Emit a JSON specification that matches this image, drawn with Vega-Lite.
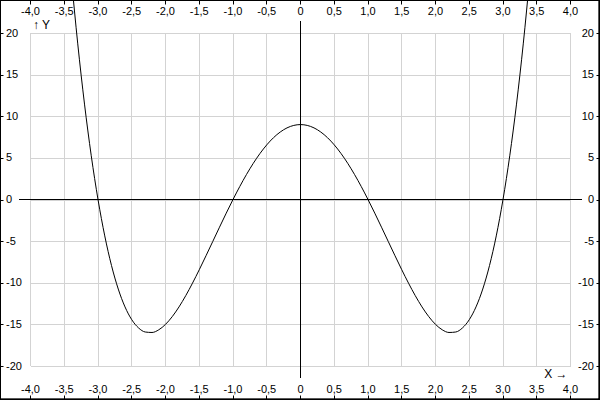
{
  "$schema": "https://vega.github.io/schema/vega-lite/v6.json",
  "width": 540,
  "height": 333,
  "autosize": {"type": "none"},
  "padding": {"left": 30.5, "top": 33, "right": 29.5, "bottom": 34},
  "background": "white",
  "config": {
    "view": {"stroke": null},
    "axis": {
      "labelFont": "Liberation Sans",
      "labelFontSize": 11,
      "labelColor": "#000",
      "titleFont": "Liberation Sans",
      "titleFontSize": 12,
      "titleColor": "#000",
      "titleFontWeight": "normal",
      "domain": false,
      "tickColor": "#000",
      "gridColor": "#d3d3d3",
      "gridOpacity": 1,
      "labelFlush": false,
      "labelOverlap": false,
      "labelBound": false
    }
  },
  "data": {
    "values": [
      {"x": -3.4, "y": 27.034}, {"x": -3.3, "y": 18.692}, {"x": -3.2, "y": 11.458}, {"x": -3.1, "y": 5.252},
      {"x": -3.0, "y": 0}, {"x": -2.9, "y": -4.372}, {"x": -2.8, "y": -7.934}, {"x": -2.7, "y": -10.756},
      {"x": -2.6, "y": -12.902}, {"x": -2.5, "y": -14.438}, {"x": -2.4, "y": -15.422}, {"x": -2.3, "y": -15.916},
      {"x": -2.2, "y": -15.974}, {"x": -2.1, "y": -15.652}, {"x": -2.0, "y": -15}, {"x": -1.9, "y": -14.068},
      {"x": -1.8, "y": -12.902}, {"x": -1.7, "y": -11.548}, {"x": -1.6, "y": -10.046}, {"x": -1.5, "y": -8.438},
      {"x": -1.4, "y": -6.758}, {"x": -1.3, "y": -5.044}, {"x": -1.2, "y": -3.326}, {"x": -1.1, "y": -1.636},
      {"x": -1.0, "y": 0}, {"x": -0.9, "y": 1.556}, {"x": -0.8, "y": 3.01}, {"x": -0.7, "y": 4.34},
      {"x": -0.6, "y": 5.53}, {"x": -0.5, "y": 6.563}, {"x": -0.4, "y": 7.426}, {"x": -0.3, "y": 8.108},
      {"x": -0.2, "y": 8.602}, {"x": -0.1, "y": 8.9}, {"x": 0, "y": 9},
      {"x": 0.1, "y": 8.9}, {"x": 0.2, "y": 8.602}, {"x": 0.3, "y": 8.108}, {"x": 0.4, "y": 7.426},
      {"x": 0.5, "y": 6.563}, {"x": 0.6, "y": 5.53}, {"x": 0.7, "y": 4.34}, {"x": 0.8, "y": 3.01},
      {"x": 0.9, "y": 1.556}, {"x": 1.0, "y": 0}, {"x": 1.1, "y": -1.636}, {"x": 1.2, "y": -3.326},
      {"x": 1.3, "y": -5.044}, {"x": 1.4, "y": -6.758}, {"x": 1.5, "y": -8.438}, {"x": 1.6, "y": -10.046},
      {"x": 1.7, "y": -11.548}, {"x": 1.8, "y": -12.902}, {"x": 1.9, "y": -14.068}, {"x": 2.0, "y": -15},
      {"x": 2.1, "y": -15.652}, {"x": 2.2, "y": -15.974}, {"x": 2.3, "y": -15.916}, {"x": 2.4, "y": -15.422},
      {"x": 2.5, "y": -14.438}, {"x": 2.6, "y": -12.902}, {"x": 2.7, "y": -10.756}, {"x": 2.8, "y": -7.934},
      {"x": 2.9, "y": -4.372}, {"x": 3.0, "y": 0}, {"x": 3.1, "y": 5.252}, {"x": 3.2, "y": 11.458},
      {"x": 3.3, "y": 18.692}, {"x": 3.4, "y": 27.034}
    ]
  },
  "resolve": {"axis": {"x": "independent", "y": "independent"}},
  "layer": [
    {
      "mark": {"type": "line", "color": "#000", "strokeWidth": 1, "interpolate": "monotone", "clip": false},
      "encoding": {
        "x": {
          "field": "x", "type": "quantitative",
          "scale": {"domain": [-4, 4], "nice": false, "zero": false},
          "axis": {
            "orient": "bottom", "offset": 33.5, "translate": 0, "grid": true,
            "values": [-4, -3.5, -3, -2.5, -2, -1.5, -1, -0.5, 0, 0.5, 1, 1.5, 2, 2.5, 3, 3.5, 4],
            "labelExpr": "datum.value == 0 ? '0' : (datum.value < 0 ? '-' : '') + replace(format(abs(datum.value), '.1f'), '.', ',')",
            "tickSize": -4, "labelPadding": -6, "labelBaseline": "middle",
            "title": "X →", "titleX": 537, "titleY": -25.5, "titleAlign": "right", "titleBaseline": "middle", "titleAnchor": null
          }
        },
        "y": {
          "field": "y", "type": "quantitative",
          "scale": {"domain": [-20, 20], "nice": false, "zero": false},
          "axis": {
            "orient": "left", "offset": 30.5, "grid": true,
            "values": [-20, -15, -10, -5, 0, 5, 10, 15, 20],
            "labelExpr": "(datum.value < 0 ? '-' : '') + abs(datum.value)",
            "tickSize": -3, "labelPadding": -2.5, "labelAlign": "left", "labelBaseline": "middle",
            "title": "↑ Y", "titleAngle": 0, "titleX": 32.5, "titleY": -9, "titleAlign": "left", "titleBaseline": "middle", "titleAnchor": null
          }
        }
      }
    },
    {
      "mark": {"type": "rule", "color": "#000", "strokeWidth": 1},
      "encoding": {
        "x": {
          "datum": -4.163, "type": "quantitative",
          "axis": {
            "orient": "top", "offset": 32.5, "translate": 0, "grid": false,
            "values": [-4, -3.5, -3, -2.5, -2, -1.5, -1, -0.5, 0, 0.5, 1, 1.5, 2, 2.5, 3, 3.5, 4],
            "labelExpr": "datum.value == 0 ? '0' : (datum.value < 0 ? '-' : '') + replace(format(abs(datum.value), '.1f'), '.', ',')",
            "tickSize": -4, "labelPadding": -7.5, "labelBaseline": "middle",
            "title": null
          }
        },
        "x2": {"datum": 4.163},
        "y": {
          "datum": 0, "type": "quantitative",
          "axis": {
            "orient": "right", "offset": 28.5, "grid": false,
            "values": [-20, -15, -10, -5, 0, 5, 10, 15, 20],
            "labelExpr": "(datum.value < 0 ? '-' : '') + abs(datum.value)",
            "tickSize": -3, "labelPadding": -2.5, "labelAlign": "right", "labelBaseline": "middle",
            "title": null
          }
        }
      }
    },
    {
      "mark": {"type": "rule", "color": "#000", "strokeWidth": 1},
      "encoding": {
        "x": {"datum": 0, "type": "quantitative", "axis": null},
        "y": {"datum": -21.36, "type": "quantitative", "axis": null},
        "y2": {"datum": 21.36}
      }
    },
    {
      "mark": {"type": "rect", "fill": null, "stroke": "#000", "strokeWidth": 1, "clip": false},
      "encoding": {
        "x": {"datum": -4.4444, "type": "quantitative", "axis": null},
        "x2": {"datum": 4.4296},
        "y": {"datum": 23.904, "type": "quantitative", "axis": null},
        "y2": {"datum": -24.024}
      }
    }
  ]
}
